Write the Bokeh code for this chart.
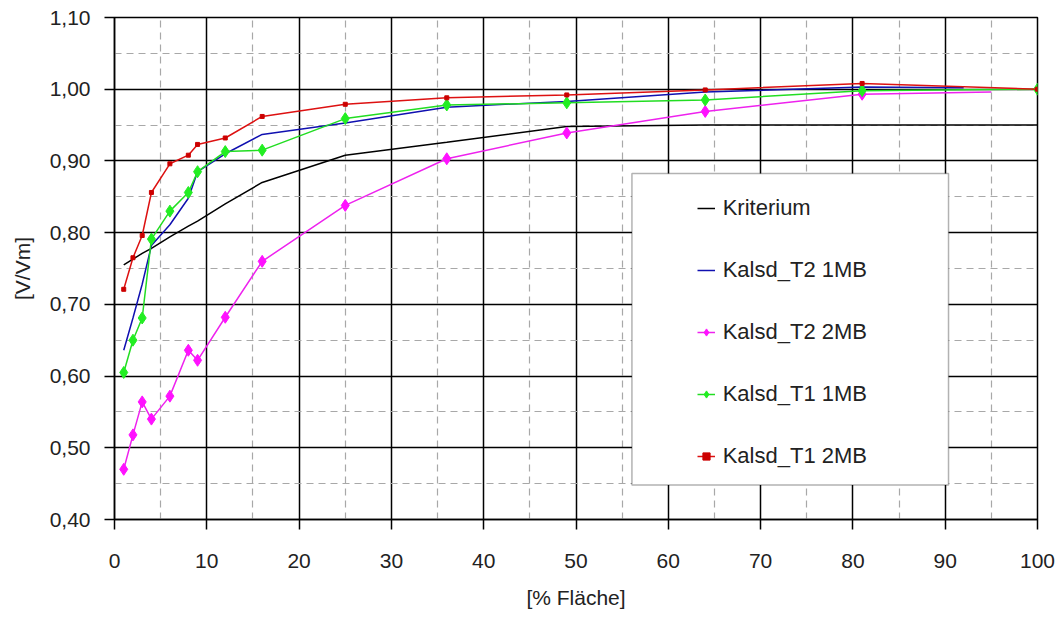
from bokeh.plotting import figure
from bokeh.models import (FixedTicker, CustomJSTickFormatter, Legend, LegendItem,
                          BoxAnnotation, Range1d)
from bokeh.embed import file_html
from bokeh.resources import INLINE

# ---- data ----
x_ticks = [0, 10, 20, 30, 40, 50, 60, 70, 80, 90, 100]
x_minor = [5, 15, 25, 35, 45, 55, 65, 75, 85, 95]
y_ticks = [0.40, 0.50, 0.60, 0.70, 0.80, 0.90, 1.00, 1.10]
y_minor = [0.45, 0.55, 0.65, 0.75, 0.85, 0.95, 1.05]

krit_x = [1, 2, 3, 4, 6, 8, 9, 12, 16, 25, 36, 49, 64, 81, 100]
krit_y = [0.755, 0.763, 0.771, 0.778, 0.794, 0.809, 0.816, 0.840, 0.870, 0.908,
          0.926, 0.948, 0.950, 0.950, 0.950]

t2_1mb_x = [1, 2, 3, 4, 6, 8, 9, 12, 16, 25, 36, 49, 64, 81, 92]
t2_1mb_y = [0.636, 0.681, 0.728, 0.782, 0.811, 0.848, 0.885, 0.910, 0.937, 0.953,
            0.975, 0.983, 0.996, 1.003, 1.002]

t2_2mb_x = [1, 2, 3, 4, 6, 8, 9, 12, 16, 25, 36, 49, 64, 81, 95]
t2_2mb_y = [0.470, 0.518, 0.564, 0.540, 0.572, 0.636, 0.622, 0.682, 0.760, 0.838,
            0.903, 0.939, 0.969, 0.993, 0.996]

t1_1mb_x = [1, 2, 3, 4, 6, 8, 9, 12, 16, 25, 36, 49, 64, 81, 100]
t1_1mb_y = [0.605, 0.650, 0.681, 0.791, 0.830, 0.856, 0.885, 0.913, 0.915, 0.959,
            0.978, 0.981, 0.985, 0.998, 1.000]

t1_2mb_x = [1, 2, 3, 4, 6, 8, 9, 12, 16, 25, 36, 49, 64, 81, 100]
t1_2mb_y = [0.721, 0.765, 0.796, 0.856, 0.896, 0.908, 0.923, 0.932, 0.962, 0.979,
            0.988, 0.992, 0.999, 1.008, 1.000]

labels = ["Kriterium", "Kalsd_T2 1MB", "Kalsd_T2 2MB", "Kalsd_T1 1MB", "Kalsd_T1 2MB"]

# ---- figure ----
FONT = "Liberation Sans"
p = figure(width=1056, height=611, output_backend="svg", toolbar_location=None,
           x_range=Range1d(0, 100), y_range=Range1d(0.40, 1.10),
           min_border_left=114, min_border_right=19, min_border_top=17,
           min_border_bottom=90)
p.background_fill_color = "white"
p.border_fill_color = "white"
p.outline_line_color = "black"
p.outline_line_width = 1.5

p.xaxis.ticker = FixedTicker(ticks=x_ticks, minor_ticks=x_minor)
p.yaxis.ticker = FixedTicker(ticks=y_ticks, minor_ticks=y_minor)
p.yaxis.formatter = CustomJSTickFormatter(code="return tick.toFixed(2).replace('.', ',');")

for ax in (p.xaxis, p.yaxis):
    ax.axis_line_color = "black"
    ax.axis_line_width = 1.5
    ax.major_tick_line_color = "black"
    ax.major_tick_line_width = 1.5
    ax.major_tick_out = 10
    ax.major_tick_in = 0
    ax.minor_tick_out = 0
    ax.minor_tick_in = 0
    ax.major_label_text_font = FONT
    ax.major_label_text_font_size = "21px"
    ax.major_label_text_color = "#222222"
    ax.axis_label_text_font = FONT
    ax.axis_label_text_font_size = "21px"
    ax.axis_label_text_font_style = "normal"
    ax.axis_label_text_color = "#222222"

p.xaxis.major_label_standoff = 24
p.yaxis.major_label_standoff = 14
p.xaxis.axis_label = "[% Fläche]"
p.yaxis.axis_label = "[V/Vm]"
p.xaxis.axis_label_standoff = 15
p.yaxis.axis_label_standoff = 13

for g in (p.xgrid, p.ygrid):
    g.grid_line_color = "black"
    g.grid_line_width = 1.5
    g.minor_grid_line_color = "#a8a8a8"
    g.minor_grid_line_width = 1.2
    g.minor_grid_line_dash = "7 5"

# ---- series ----
r_k = p.line(krit_x, krit_y, line_color="black", line_width=1.5)

r_b = p.line(t2_1mb_x, t2_1mb_y, line_color="#1010b0", line_width=1.5)

r_p = p.line(t2_2mb_x, t2_2mb_y, line_color="#ee22ee", line_width=1.5)
s_p = p.scatter(t2_2mb_x[:-1], t2_2mb_y[:-1], marker="diamond", size=12,
                fill_color="#ff11ff", line_color="#ff11ff")

r_g = p.line(t1_1mb_x, t1_1mb_y, line_color="#22dd22", line_width=1.5)
s_g = p.scatter(t1_1mb_x, t1_1mb_y, marker="diamond", size=12,
                fill_color="#22ee22", line_color="#22ee22")

r_r = p.line(t1_2mb_x, t1_2mb_y, line_color="#dd1111", line_width=1.5)
s_r = p.scatter(t1_2mb_x, t1_2mb_y, marker="square", size=4,
                fill_color="#cc0000", line_color="#cc0000")

# ---- legend ----
box = BoxAnnotation(left=56.06, right=90.36, bottom=0.448, top=0.8825,
                    fill_color="white", fill_alpha=1.0,
                    line_color="black", line_width=1.5)
p.add_layout(box)

legend = Legend(items=[
    LegendItem(label=labels[0], renderers=[r_k]),
    LegendItem(label=labels[1], renderers=[r_b]),
    LegendItem(label=labels[2], renderers=[r_p, s_p]),
    LegendItem(label=labels[3], renderers=[r_g, s_g]),
    LegendItem(label=labels[4], renderers=[r_r, s_r]),
], location=(582.7, 50), padding=10, spacing=36, glyph_width=18, glyph_height=26,
    label_height=26, label_standoff=8, label_text_font=FONT,
    label_text_font_size="22px", label_text_color="#222222",
    border_line_color=None, background_fill_alpha=0)
p.add_layout(legend, "center")

open("out.html", "w").write(file_html(p, INLINE))
